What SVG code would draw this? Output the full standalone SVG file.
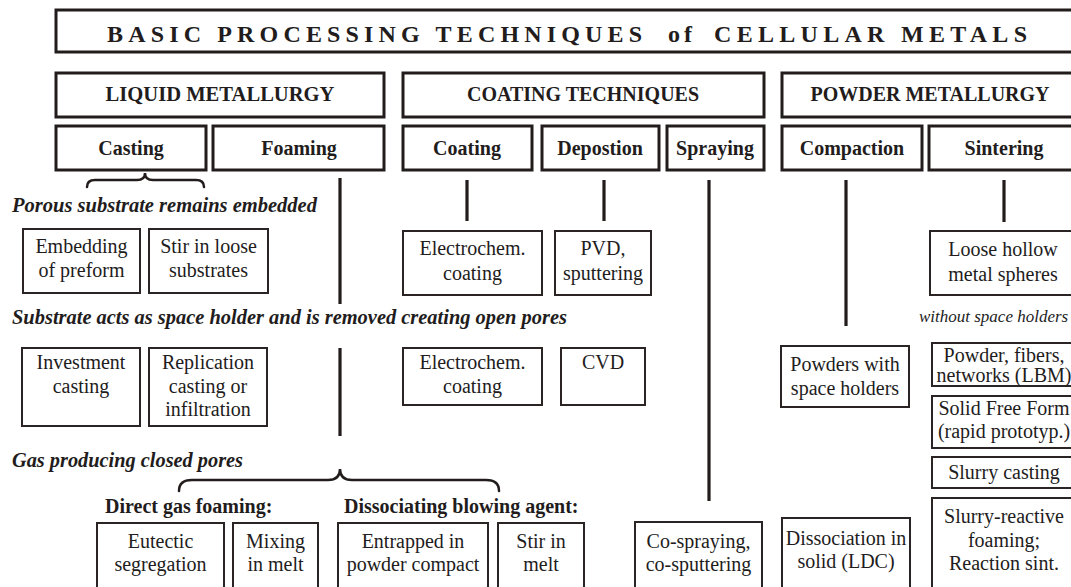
<svg xmlns="http://www.w3.org/2000/svg" width="1071" height="587" viewBox="0 0 1071 587">
<style>
.bx3{fill:none;stroke:#221c1c;stroke-width:3}
.bx2{fill:none;stroke:#2a2424;stroke-width:2}
.ln{fill:none;stroke:#221c1c;stroke-width:3.2}
.br{fill:none;stroke:#221c1c;stroke-width:2.5;stroke-linecap:round}
text{font-family:"Liberation Serif",Tinos,"Times New Roman","Noto Serif","DejaVu Serif",serif;fill:#221c1c}
.ttl{font-weight:bold;font-size:24px}
.hb{font-weight:bold;font-size:20px;text-anchor:middle}
.r{font-size:20px;text-anchor:middle}
.it{font-style:italic;font-weight:bold;font-size:20px}
.its{font-style:italic;font-size:17px}
.lb{font-weight:bold;font-size:20px}
</style>
<rect width="1071" height="587" fill="#ffffff"/>

<g id="title">
<rect class="bx3" x="56" y="10" width="1022" height="42"/>
<text class="ttl" y="42"><tspan x="107" textLength="535" lengthAdjust="spacing">BASIC PROCESSING TECHNIQUES</tspan><tspan x="668" textLength="24" lengthAdjust="spacing">of</tspan><tspan x="714" textLength="313" lengthAdjust="spacing">CELLULAR METALS</tspan></text>
</g>

<g id="liquid-metallurgy"><rect class="bx3" x="56" y="73" width="328" height="44"/><text class="hb" x="220" y="101" textLength="229" lengthAdjust="spacingAndGlyphs">LIQUID METALLURGY</text></g>
<g id="coating-techniques"><rect class="bx3" x="403" y="73" width="361" height="44"/><text class="hb" x="583" y="101">COATING TECHNIQUES</text></g>
<g id="powder-metallurgy"><rect class="bx3" x="782" y="73" width="296" height="44"/><text class="hb" x="930" y="101">POWDER METALLURGY</text></g>

<g id="casting"><rect class="bx3" x="56" y="126" width="150" height="44"/><text class="hb" x="131" y="155">Casting</text></g>
<g id="foaming"><rect class="bx3" x="213" y="126" width="171" height="44"/><text class="hb" x="299" y="155">Foaming</text></g>
<g id="coating"><rect class="bx3" x="403" y="126" width="129" height="44"/><text class="hb" x="467" y="155">Coating</text></g>
<g id="depostion"><rect class="bx3" x="542" y="126" width="117" height="44"/><text class="hb" x="600" y="155">Depostion</text></g>
<g id="spraying"><rect class="bx3" x="667" y="126" width="97" height="44"/><text class="hb" x="715" y="155">Spraying</text></g>
<g id="compaction"><rect class="bx3" x="782" y="126" width="140" height="44"/><text class="hb" x="852" y="155">Compaction</text></g>
<g id="sintering"><rect class="bx3" x="929" y="126" width="149" height="44"/><text class="hb" x="1004" y="155">Sintering</text></g>

<g id="connectors">
<path class="br" d="M87,187 Q87,180 95,180 L137,180 Q145,180 145,173 Q145,180 153,180 L196,180 Q204,180 204,187"/>
<line class="ln" x1="340" y1="178" x2="340" y2="304"/>
<line class="ln" x1="340" y1="348" x2="340" y2="436"/>
<line class="ln" x1="467" y1="180" x2="467" y2="221"/>
<line class="ln" x1="604" y1="180" x2="604" y2="221"/>
<line class="ln" x1="709" y1="180" x2="709" y2="501"/>
<line class="ln" x1="846" y1="180" x2="846" y2="326"/>
<line class="ln" x1="1004" y1="180" x2="1004" y2="222"/>
<path class="br" d="M179,491 Q179,480 192,480 L328,480 Q340,480 340,469 Q340,480 352,480 L486,480 Q499,480 499,491"/>
</g>

<g id="labels">
<text class="it" x="12" y="212" textLength="305" lengthAdjust="spacingAndGlyphs">Porous substrate remains embedded</text>
<text class="it" x="12" y="324" textLength="555" lengthAdjust="spacingAndGlyphs">Substrate acts as space holder and is removed creating open pores</text>
<text class="its" x="919" y="322">without space holders</text>
<text class="it" x="12" y="467" textLength="231" lengthAdjust="spacingAndGlyphs">Gas producing closed pores</text>
<text class="lb" x="105" y="513">Direct gas foaming:</text>
<text class="lb" x="344" y="513">Dissociating blowing agent:</text>
</g>

<g id="embedding"><rect class="bx2" x="23" y="229" width="117" height="64"/><text class="r" x="81.5" y="253">Embedding</text><text class="r" x="81.5" y="277">of preform</text></g>
<g id="stir-loose"><rect class="bx2" x="149" y="229" width="119" height="64"/><text class="r" x="208.5" y="253">Stir in loose</text><text class="r" x="208.5" y="277">substrates</text></g>
<g id="electrochem-1"><rect class="bx2" x="403" y="231" width="139" height="64"/><text class="r" x="472.5" y="255">Electrochem.</text><text class="r" x="472.5" y="280">coating</text></g>
<g id="pvd"><rect class="bx2" x="555" y="231" width="96" height="64"/><text class="r" x="603" y="255">PVD,</text><text class="r" x="603" y="280">sputtering</text></g>
<g id="loose-hollow"><rect class="bx2" x="930" y="231" width="150" height="64"/><text class="r" x="1003" y="256">Loose hollow</text><text class="r" x="1003" y="281">metal spheres</text></g>

<g id="investment"><rect class="bx2" x="22" y="348" width="118" height="78"/><text class="r" x="81" y="369">Investment</text><text class="r" x="81" y="393">casting</text></g>
<g id="replication"><rect class="bx2" x="149" y="348" width="118" height="78"/><text class="r" x="208" y="369">Replication</text><text class="r" x="208" y="393">casting or</text><text class="r" x="208" y="416">infiltration</text></g>
<g id="electrochem-2"><rect class="bx2" x="403" y="348" width="139" height="57"/><text class="r" x="472.5" y="369">Electrochem.</text><text class="r" x="472.5" y="393">coating</text></g>
<g id="cvd"><rect class="bx2" x="561" y="348" width="84" height="57"/><text class="r" x="603" y="369">CVD</text></g>
<g id="powders-space"><rect class="bx2" x="781" y="346" width="128" height="61"/><text class="r" x="845" y="371">Powders with</text><text class="r" x="845" y="395">space holders</text></g>
<g id="powder-fibers"><rect class="bx2" x="932" y="343" width="148" height="43"/><text class="r" x="1004" y="362">Powder, fibers,</text><text class="r" x="1004" y="382">networks (LBM)</text></g>
<g id="solid-free-form"><rect class="bx2" x="932" y="396" width="148" height="52"/><text class="r" x="1004" y="415">Solid Free Form</text><text class="r" x="1004" y="438">(rapid prototyp.)</text></g>
<g id="slurry-casting"><rect class="bx2" x="932" y="457" width="148" height="31"/><text class="r" x="1004" y="479">Slurry casting</text></g>
<g id="slurry-reactive"><rect class="bx2" x="932" y="498" width="148" height="100"/><text class="r" x="1004" y="523">Slurry-reactive</text><text class="r" x="1004" y="547">foaming;</text><text class="r" x="1004" y="570">Reaction sint.</text></g>

<g id="eutectic"><rect class="bx2" x="97" y="523" width="127" height="80"/><text class="r" x="160.5" y="548">Eutectic</text><text class="r" x="160.5" y="571">segregation</text></g>
<g id="mixing"><rect class="bx2" x="233" y="523" width="85" height="80"/><text class="r" x="275.5" y="548">Mixing</text><text class="r" x="275.5" y="571">in melt</text></g>
<g id="entrapped"><rect class="bx2" x="338" y="523" width="150" height="80"/><text class="r" x="413" y="548">Entrapped in</text><text class="r" x="413" y="571">powder compact</text></g>
<g id="stir-melt"><rect class="bx2" x="498" y="523" width="86" height="80"/><text class="r" x="541" y="548">Stir in</text><text class="r" x="541" y="571">melt</text></g>
<g id="co-spraying"><rect class="bx2" x="635" y="522" width="127" height="80"/><text class="r" x="698.5" y="548">Co-spraying,</text><text class="r" x="698.5" y="571">co-sputtering</text></g>
<g id="dissociation"><rect class="bx2" x="782" y="518" width="128" height="80"/><text class="r" x="846" y="545">Dissociation in</text><text class="r" x="846" y="568">solid (LDC)</text></g>
</svg>
